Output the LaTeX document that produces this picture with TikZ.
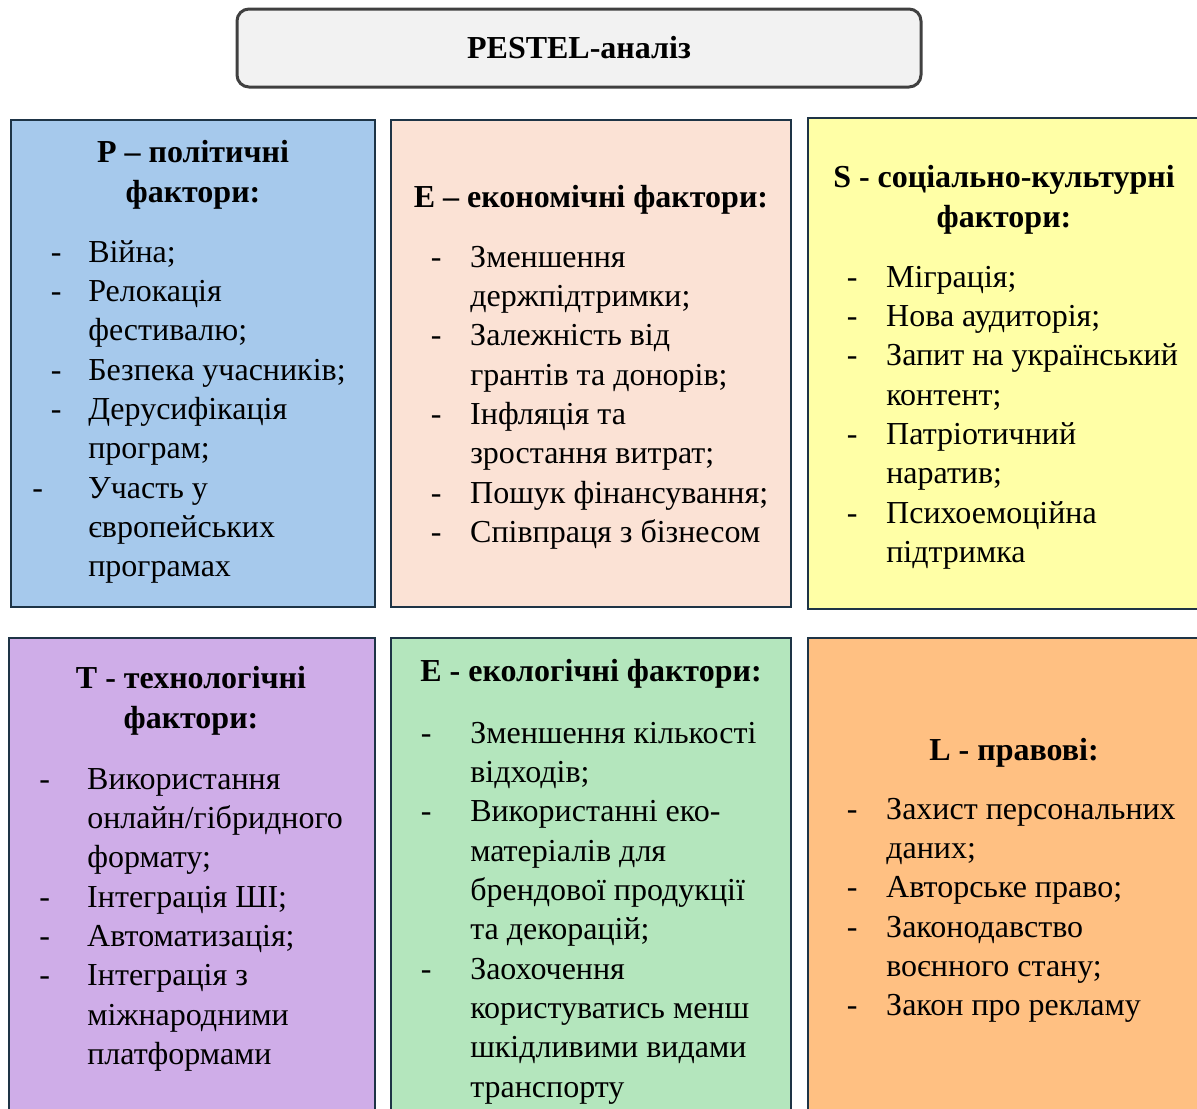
\documentclass[tikz,border=0pt]{standalone}
\usepackage{fontspec}
\setmainfont{Liberation Serif}
\definecolor{titlefill}{HTML}{F2F2F2}
\definecolor{titleline}{HTML}{404040}
\definecolor{boxline}{HTML}{1E3446}
\definecolor{polblue}{HTML}{A6C9EC}
\definecolor{ecopeach}{HTML}{FBE2D5}
\definecolor{socyellow}{HTML}{FFFFA6}
\definecolor{techviolet}{HTML}{CFADE8}
\definecolor{envgreen}{HTML}{B4E6BD}
\definecolor{laworange}{HTML}{FFC082}
\newcommand{\dashitem}[1]{\llap{-\hspace{#1}}}
\tikzset{
  factorbox/.style={draw=boxline, line width=1.8pt},
  heading/.style={anchor=base, inner sep=0pt, font=\bfseries\fontsize{24}{30}\selectfont},
  itemlist/.style={anchor=base west, inner sep=0pt, font=\fontsize{24}{29.5}\selectfont}
}
\begin{document}
\begin{tikzpicture}[x=0.75pt,y=-0.75pt]
\useasboundingbox (0,0) rectangle (1197,1108);
\node [draw=titleline, fill=titlefill, line width=2.25pt, rounded corners=9pt,
       minimum width=513pt, minimum height=58.5pt,
       font=\bfseries\fontsize{24}{30}\selectfont] (title) at (579,48) {PESTEL-аналіз};
\draw [factorbox, fill=polblue] (11,120) rectangle (375,607);
\draw [factorbox, fill=ecopeach] (391,120) rectangle (791,607);
\draw [factorbox, fill=socyellow] (808,118) rectangle (1202,609);
\draw [factorbox, fill=techviolet] (9,638) rectangle (375,1125);
\draw [factorbox, fill=envgreen] (391,638) rectangle (791,1125);
\draw [factorbox, fill=laworange] (808,638) rectangle (1202,1125);
\node [heading] (polhead) at (193,162) {\begin{tabular}[t]{@{}c@{}}P – політичні\\фактори:\end{tabular}};
\node [itemlist] (pollist) at (88,262) {\begin{tabular}[t]{@{}l@{}}
\dashitem{20pt}Війна;\\
\dashitem{20pt}Релокація\\
фестивалю;\\
\dashitem{20pt}Безпека учасників;\\
\dashitem{20pt}Дерусифікація\\
програм;\\
\dashitem{34pt}Участь у\\
європейських\\
програмах
\end{tabular}};
\node [heading] (ecohead) at (591,207) {\begin{tabular}[t]{@{}c@{}}E – економічні фактори:\end{tabular}};
\node [itemlist] (ecolist) at (470,267) {\begin{tabular}[t]{@{}l@{}}
\dashitem{21.5pt}Зменшення\\
держпідтримки;\\
\dashitem{21.5pt}Залежність від\\
грантів та донорів;\\
\dashitem{21.5pt}Інфляція та\\
зростання витрат;\\
\dashitem{21.5pt}Пошук фінансування;\\
\dashitem{21.5pt}Співпраця з бізнесом
\end{tabular}};
\node [heading] (sochead) at (1004,187) {\begin{tabular}[t]{@{}c@{}}S - соціально-культурні\\фактори:\end{tabular}};
\node [itemlist] (soclist) at (886,287) {\begin{tabular}[t]{@{}l@{}}
\dashitem{21.5pt}Міграція;\\
\dashitem{21.5pt}Нова аудиторія;\\
\dashitem{21.5pt}Запит на український\\
контент;\\
\dashitem{21.5pt}Патріотичний\\
наратив;\\
\dashitem{21.5pt}Психоемоційна\\
підтримка
\end{tabular}};
\node [heading] (techhead) at (191,688) {\begin{tabular}[t]{@{}c@{}}T - технологічні\\фактори:\end{tabular}};
\node [itemlist] (techlist) at (87,789) {\begin{tabular}[t]{@{}l@{}}
\dashitem{28pt}Використання\\
онлайн/гібридного\\
формату;\\
\dashitem{28pt}Інтеграція ШІ;\\
\dashitem{28pt}Автоматизація;\\
\dashitem{28pt}Інтеграція з\\
міжнародними\\
платформами
\end{tabular}};
\node [heading] (envhead) at (591,681) {\begin{tabular}[t]{@{}c@{}}E - екологічні фактори:\end{tabular}};
\node [itemlist] (envlist) at (470,743) {\begin{tabular}[t]{@{}l@{}}
\dashitem{29pt}Зменшення кількості\\
відходів;\\
\dashitem{29pt}Використанні еко-\\
матеріалів для\\
брендової продукції\\
та декорацій;\\
\dashitem{29pt}Заохочення\\
користуватись менш\\
шкідливими видами\\
транспорту
\end{tabular}};
\node [heading] (lawhead) at (1014,760) {\begin{tabular}[t]{@{}c@{}}L - правові:\end{tabular}};
\node [itemlist] (lawlist) at (886,819) {\begin{tabular}[t]{@{}l@{}}
\dashitem{21.5pt}Захист персональних\\
даних;\\
\dashitem{21.5pt}Авторське право;\\
\dashitem{21.5pt}Законодавство\\
воєнного стану;\\
\dashitem{21.5pt}Закон про рекламу
\end{tabular}};
\end{tikzpicture}
\end{document}
